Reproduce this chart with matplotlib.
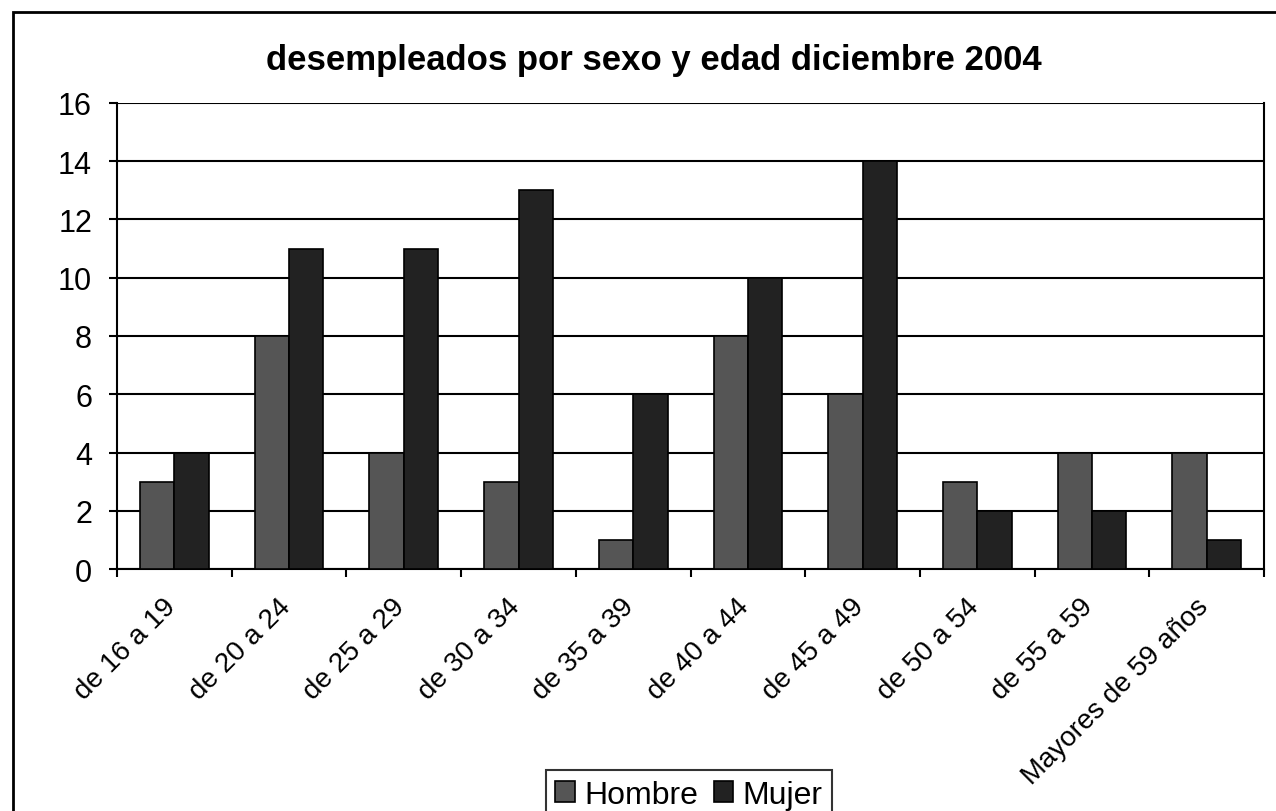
import matplotlib
matplotlib.use("Agg")
import matplotlib.pyplot as plt
import matplotlib.transforms as mtransforms
from matplotlib.patches import Rectangle
import numpy as np

# datos
categorias = ["de 16 a 19", "de 20 a 24", "de 25 a 29", "de 30 a 34", "de 35 a 39",
              "de 40 a 44", "de 45 a 49", "de 50 a 54", "de 55 a 59", "Mayores de 59 años"]
hombre = [3, 8, 4, 3, 1, 8, 6, 3, 4, 4]
mujer = [4, 11, 11, 13, 6, 10, 14, 2, 2, 1]

plt.rcParams['font.family'] = ['Liberation Sans', 'DejaVu Sans']

fig = plt.figure(figsize=(12.76, 8.12), dpi=100)
ax = fig.add_axes([0.0917, 0.298, 0.899, 0.574])

x = np.arange(len(categorias))
w = 0.3
ax.bar(x - w/2, hombre, w, color='#555555', edgecolor='black', linewidth=1.2, label='Hombre', zorder=3)
ax.bar(x + w/2, mujer, w, color='#222222', edgecolor='black', linewidth=1.2, label='Mujer', zorder=3)

ax.set_xlim(-0.5, len(categorias) - 0.5)
ax.set_ylim(0, 16)
ax.set_yticks(range(0, 17, 2))
ax.tick_params(axis='y', labelsize=22, length=6, width=1.5, direction='out', pad=12)
ax.yaxis.grid(True, color='black', linewidth=1.5, zorder=0)

# ticks de categorias en los bordes, etiquetas al centro
ax.set_xticks(np.arange(-0.5, len(categorias), 1))
ax.set_xticklabels([])
ax.tick_params(axis='x', which='major', length=6, width=1.5, direction='out')
ax.set_xticks(x, minor=True)
ax.set_xticklabels(categorias, minor=True, rotation=45, ha='right', rotation_mode='anchor', fontsize=20)
ax.tick_params(axis='x', which='minor', length=0, pad=10)
desplaza = mtransforms.ScaledTranslation(-0.12, -0.1, fig.dpi_scale_trans)
for lbl in ax.get_xticklabels(minor=True):
    lbl.set_transform(lbl.get_transform() + desplaza)

for s in ['top', 'bottom', 'left', 'right']:
    ax.spines[s].set_linewidth(1.5)
ax.spines['top'].set_visible(False)

fig.text(0.5125, 0.926, "desempleados por sexo y edad diciembre 2004", ha='center', va='center',
         fontsize=25, fontweight='bold')

leg = fig.legend(loc='center', bbox_to_anchor=(0.54, 0.02), ncol=2, fontsize=23, frameon=True,
                 fancybox=False, edgecolor='black', handlelength=0.6, handleheight=0.6,
                 handletextpad=0.3, columnspacing=0.5, borderpad=0.3)
leg.get_frame().set_linewidth(1.5)

# borde exterior del grafico
fig.patches.append(Rectangle((0.0102, -0.05), 1.0, 1.034, transform=fig.transFigure,
                             fill=False, edgecolor='black', linewidth=2))

fig.savefig("out.png", dpi=100)
